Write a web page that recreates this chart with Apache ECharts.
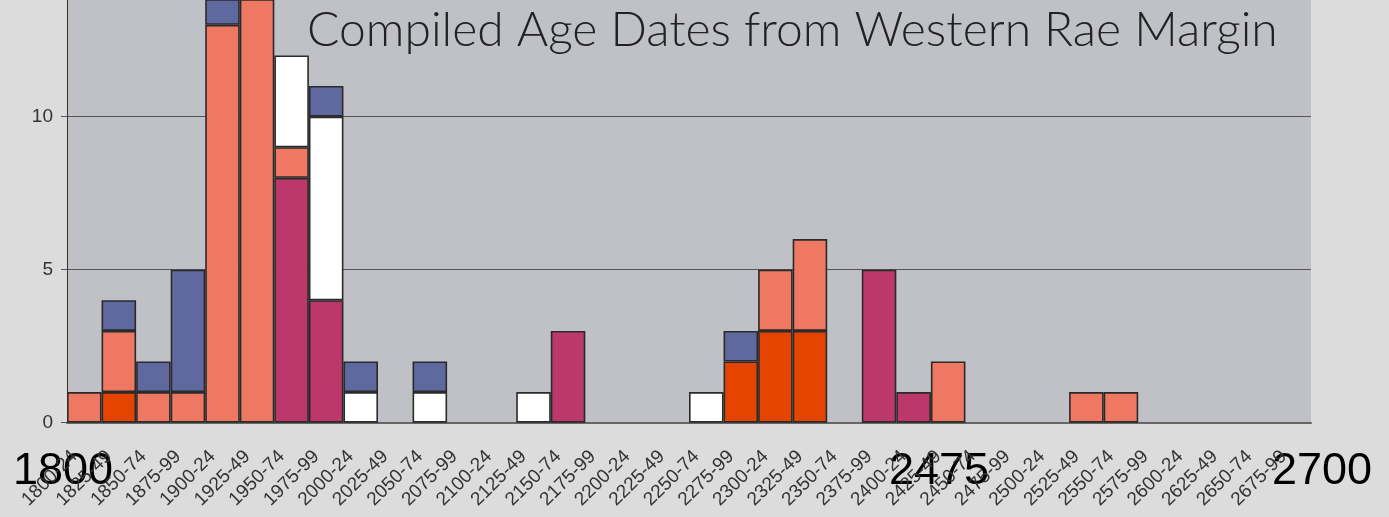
<!DOCTYPE html>
<html><head><meta charset="utf-8">
<script src="https://cdn.jsdelivr.net/npm/echarts@6/dist/echarts.min.js"></script>
<style>html,body{margin:0;padding:0;background:#dcdcdc}#c{width:1389px;height:517px}</style>
</head><body><div id="c"></div>
<script>
const categories = ["1800-24","1825-49","1850-74","1875-99","1900-24","1925-49","1950-74","1975-99",
"2000-24","2025-49","2050-74","2075-99","2100-24","2125-49","2150-74","2175-99","2200-24","2225-49",
"2250-74","2275-99","2300-24","2325-49","2350-74","2375-99","2400-24","2425-49","2450-74","2475-99",
"2500-24","2525-49","2550-74","2575-99","2600-24","2625-49","2650-74","2675-99"];
const _ = null;
const darkOrange = [_,1,_,_,_,_,_,_,_,_,_,_,_,_,_,_,_,_,_,2,3,3,_,_,_,_,_,_,_,_,_,_,_,_,_,_];
const crimson    = [_,_,_,_,_,_,8,4,_,_,_,_,_,_,3,_,_,_,_,_,_,_,_,5,1,_,_,_,_,_,_,_,_,_,_,_];
const salmon     = [1,2,1,1,13,15,1,_,_,_,_,_,_,_,_,_,_,_,_,_,2,3,_,_,_,2,_,_,_,1,1,_,_,_,_,_];
const white      = [_,_,_,_,_,_,3,6,1,_,1,_,_,1,_,_,_,_,1,_,_,_,_,_,_,_,_,_,_,_,_,_,_,_,_,_];
const blue       = [_,1,1,4,1,_,_,1,1,_,1,_,_,_,_,_,_,_,_,1,_,_,_,_,_,_,_,_,_,_,_,_,_,_,_,_];
const yTicks = [0, 5, 10];
const title = "Compiled Age Dates from Western Rae Margin";
const bigLabels = ["1800", "2475", "2700"];

const chart = echarts.init(document.getElementById('c'));
const mk = (name, data, color) => ({
  name, type: 'bar', stack: 'a', data, barCategoryGap: '0%',
  itemStyle: { color, borderColor: '#2a2a2a', borderWidth: 1.6 }
});
chart.setOption({
  backgroundColor: '#dcdcdc',
  animation: false,
  grid: { left: 67, right: 78, top: 0, bottom: 94.3, show: true, backgroundColor: '#bfc1c6', borderWidth: 0, containLabel: false },
  xAxis: {
    type: 'category', data: categories,
    axisLine: { lineStyle: { color: '#666', width: 2 } },
    axisTick: { length: 6, lineStyle: { color: '#555', width: 1.5 } },
    axisLabel: { rotate: 45, fontSize: 19, color: '#333', margin: 21, padding: [0, 14, 0, 0],
      fontFamily: 'Liberation Sans, Arial', interval: 0 }
  },
  yAxis: {
    type: 'value', min: 0, max: 13.81, interval: 5,
    axisLine: { show: true, lineStyle: { color: '#333', width: 1 } },
    axisTick: { show: true, length: 6, lineStyle: { color: '#555' } },
    axisLabel: { fontSize: 19, color: '#333', margin: 14, fontFamily: 'Liberation Sans, Arial',
      showMaxLabel: false,
      formatter: v => yTicks.includes(v) ? String(v) : '' },
    splitLine: { show: true, showMaxLine: false, lineStyle: { color: '#555', width: 1 } }
  },
  series: [
    mk('a', darkOrange, '#e54400'),
    mk('b', crimson, '#bd386a'),
    mk('c', salmon, '#ef7862'),
    mk('d', white, '#ffffff'),
    mk('e', blue, '#5f699f')
  ],
  graphic: [
    { type: 'text', left: 307, top: 7, style: { text: title, font: '300 48px Lato, "Open Sans", sans-serif', fill: '#222' } },
    { type: 'text', left: 13, top: 449, style: { text: bigLabels[0], font: '45px "Liberation Sans", Arial', fill: '#000' } },
    { type: 'text', left: 889, top: 449, style: { text: bigLabels[1], font: '45px "Liberation Sans", Arial', fill: '#000' } },
    { type: 'text', left: 1272, top: 449, style: { text: bigLabels[2], font: '45px "Liberation Sans", Arial', fill: '#000' } }
  ]
});
</script></body></html>
